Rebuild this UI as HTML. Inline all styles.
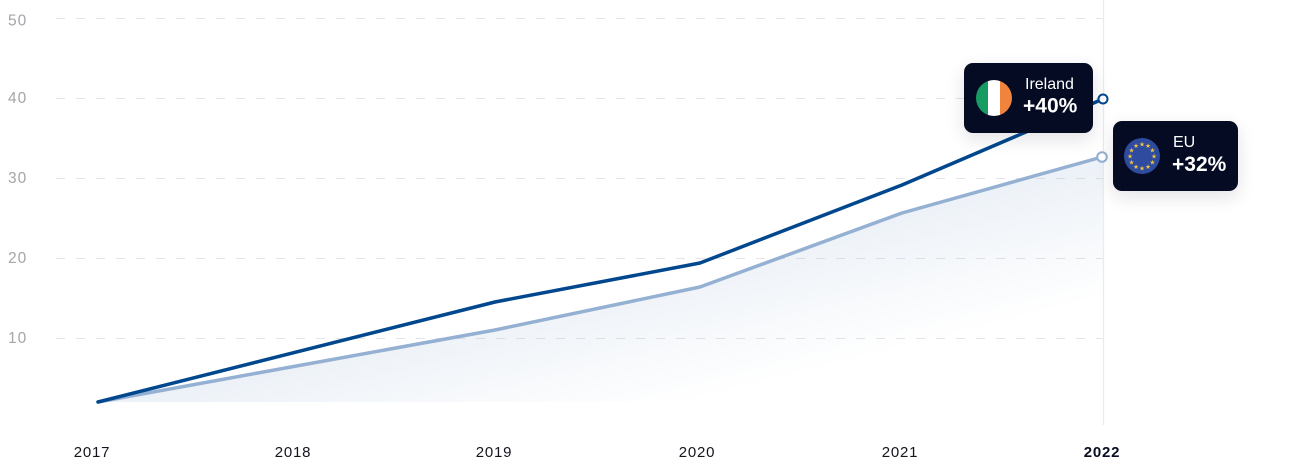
<!DOCTYPE html>
<html>
<head>
<meta charset="utf-8">
<style>
  html, body { margin:0; padding:0; background:#ffffff; }
  body { width:1308px; height:464px; overflow:hidden; position:relative; font-family:"Liberation Sans", sans-serif; }
  svg { position:absolute; left:0; top:0; }
  .box { position:absolute; background:#050b23; border-radius:9px; box-shadow:0 6px 18px rgba(10,20,50,0.12); }
</style>
</head>
<body>
<svg width="1308" height="464" viewBox="0 0 1308 464" xmlns="http://www.w3.org/2000/svg">
  <defs>
    <linearGradient id="fade" gradientUnits="userSpaceOnUse" x1="600" y1="280" x2="634" y2="416">
      <stop offset="0" stop-color="#94b1d3" stop-opacity="0.18"/>
      <stop offset="1" stop-color="#94b1d3" stop-opacity="0"/>
    </linearGradient>
  </defs>
  <!-- gridlines -->
  <g stroke="#e4e4e8" stroke-width="1" stroke-dasharray="9 11">
    <line x1="56" y1="18.5" x2="1103" y2="18.5"/>
    <line x1="56" y1="98.5" x2="1103" y2="98.5"/>
    <line x1="56" y1="178.5" x2="1103" y2="178.5"/>
    <line x1="56" y1="258.5" x2="1103" y2="258.5"/>
    <line x1="56" y1="338.5" x2="1103" y2="338.5"/>
  </g>
  <!-- vertical marker -->
  <line x1="1103.5" y1="0" x2="1103.5" y2="425" stroke="#ebebef" stroke-width="1.2"/>
  <!-- y labels -->
  <g font-family="Liberation Sans, sans-serif" font-size="15.5" fill="#a4a4aa" letter-spacing="1">
    <text x="8" y="25.5">50</text>
    <text x="8" y="103">40</text>
    <text x="8" y="183">30</text>
    <text x="8" y="263">20</text>
    <text x="8" y="343">10</text>
  </g>
  <!-- area -->
  <polygon points="98,402 495,330 700,287 902,213 1103,157 1103,402" fill="url(#fade)"/>
  <!-- EU line -->
  <polyline points="98,402 495,330 700,287 902,213 1102,157" fill="none" stroke="#94b0d2" stroke-width="3.5" stroke-linejoin="round" stroke-linecap="round"/>
  <!-- Ireland line -->
  <polyline points="98,402 495,302 700,263 902,185 1103,99" fill="none" stroke="#00478e" stroke-width="3.5" stroke-linejoin="round" stroke-linecap="round"/>
  <!-- markers -->
  <circle cx="1103" cy="99" r="4.5" fill="#ffffff" stroke="#00478e" stroke-width="2"/>
  <circle cx="1102" cy="157" r="4.8" fill="#ffffff" stroke="#94b0d2" stroke-width="2"/>
  <!-- x labels -->
  <g font-family="Liberation Sans, sans-serif" font-size="15" fill="#14141e" text-anchor="middle" letter-spacing="0.8">
    <text x="92" y="457">2017</text>
    <text x="293" y="457">2018</text>
    <text x="494" y="457">2019</text>
    <text x="697" y="457">2020</text>
    <text x="900" y="457">2021</text>
    <text x="1102" y="457" font-weight="bold" fill="#0a0e22">2022</text>
  </g>
</svg>

<!-- Ireland tooltip -->
<div class="box" style="left:964px; top:63px; width:129px; height:70px;"></div>
<svg width="1308" height="464" viewBox="0 0 1308 464" xmlns="http://www.w3.org/2000/svg">
  <defs>
    <clipPath id="ie"><circle cx="994" cy="98" r="18"/></clipPath>
  </defs>
  <g clip-path="url(#ie)">
    <rect x="976" y="80" width="12" height="36" fill="#169b62"/>
    <rect x="988" y="80" width="12" height="36" fill="#ffffff"/>
    <rect x="1000" y="80" width="12" height="36" fill="#f0843c"/>
  </g>
  <text x="1025" y="89" font-family="Liberation Sans, sans-serif" font-size="16" fill="#ffffff">Ireland</text>
  <text x="1023" y="112.5" font-family="Liberation Sans, sans-serif" font-size="21" font-weight="bold" fill="#ffffff">+40%</text>
</svg>

<!-- EU tooltip -->
<div class="box" style="left:1113px; top:121px; width:125px; height:70px;"></div>
<svg width="1308" height="464" viewBox="0 0 1308 464" xmlns="http://www.w3.org/2000/svg">
  <circle cx="1142" cy="156" r="18" fill="#2e4b9f"/>
  <g fill="#f2c53d" font-family="DejaVu Sans, sans-serif" font-size="6.5" text-anchor="middle">
    <text x="1142" y="146.5">★</text>
    <text x="1148" y="148.1">★</text>
    <text x="1152.4" y="152.5">★</text>
    <text x="1154" y="158.5">★</text>
    <text x="1152.4" y="164.5">★</text>
    <text x="1148" y="168.9">★</text>
    <text x="1142" y="170.5">★</text>
    <text x="1136" y="168.9">★</text>
    <text x="1131.6" y="164.5">★</text>
    <text x="1130" y="158.5">★</text>
    <text x="1131.6" y="152.5">★</text>
    <text x="1136" y="148.1">★</text>
  </g>
  <text x="1173" y="147" font-family="Liberation Sans, sans-serif" font-size="16" fill="#ffffff">EU</text>
  <text x="1172" y="171" font-family="Liberation Sans, sans-serif" font-size="21" font-weight="bold" fill="#ffffff">+32%</text>
</svg>
</body>
</html>
